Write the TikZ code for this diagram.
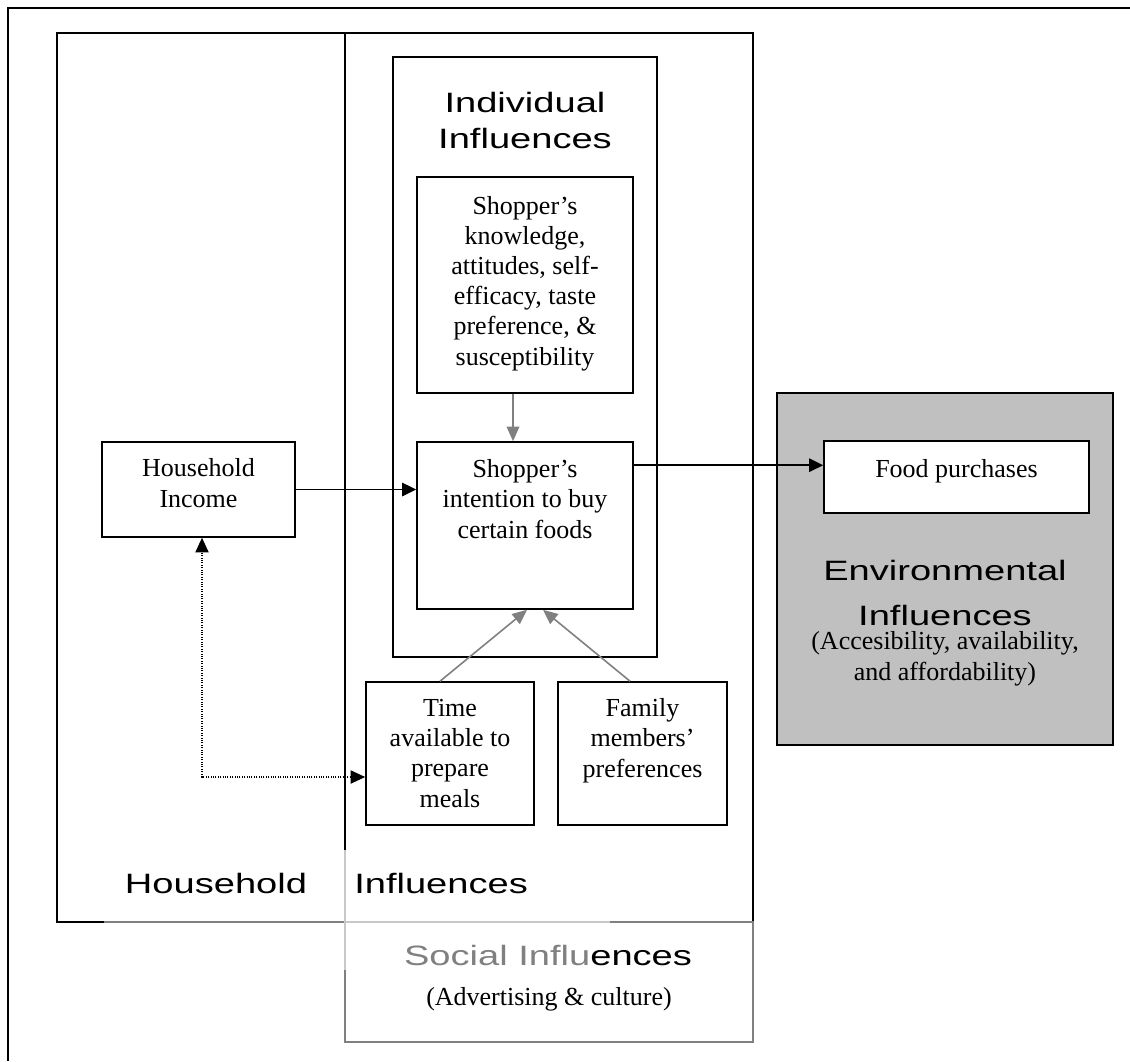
\documentclass[tikz,border=0pt]{standalone}
\usepackage{fontspec}
\setmainfont{Liberation Serif}
\newfontfamily\headfont[FakeStretch=1.36]{Liberation Sans}
\usetikzlibrary{arrows.meta,fit,calc}
\definecolor{midgray}{HTML}{808080}
\definecolor{paleline}{HTML}{C8C8C8}
\definecolor{envgray}{HTML}{C0C0C0}
\begin{document}
\begin{tikzpicture}[x=0.75pt,y=-0.75pt,
  boxline/.style={draw=black, line width=1.2pt, inner sep=0pt},
  body/.style={font=\fontsize{19.5}{22.6}\selectfont, align=center, inner sep=0pt},
  head/.style={font=\headfont\fontsize{21}{27}\selectfont, inner sep=0pt},
  blackarrow/.style={line width=1.2pt, -{Triangle[length=10.5pt,width=10pt]}},
  grayarrow/.style={draw=midgray, line width=1.2pt, -{Triangle[length=11pt,width=9.5pt]}},
  dotarrow/.style={line width=0.9pt, dash pattern=on 0.8pt off 1pt,
    {Triangle[length=11pt,width=10pt]}-{Triangle[length=11pt,width=10pt]}}]
\useasboundingbox (0,0) rectangle (1130,1061);
% page frame
\draw[line width=1.5pt] (8,1061) -- (8,8) -- (1130,8);
% big containers
\node[boxline, fit={(57,33)(345,922)}] (hh) {};
\node[boxline, fit={(345,33)(753,922)}] (mid) {};
\node[boxline, draw=midgray, fit={(345,922)(753,1042)}] (soc) {};
\draw[midgray, line width=1.2pt] (104,922) -- (345,922);
\draw[paleline, line width=1.2pt] (345,922) -- (610,922);
\draw[paleline, line width=1.2pt] (345,850) -- (345,970);
% inner boxes
\node[boxline, fit={(393,57)(657,657)}] (indiv) {};
\node[boxline, fit={(417,177)(633,393)}] (know) {};
\node[boxline, fit={(417,442)(633,609)}] (intent) {};
\node[boxline, fit={(102,442)(295,537)}] (inc) {};
\node[boxline, fit={(366,682)(534,825)}] (time) {};
\node[boxline, fit={(558,682)(727,825)}] (fam) {};
\node[boxline, fill=envgray, fit={(777,393)(1113,745)}] (env) {};
\node[boxline, fill=white, fit={(824,441)(1089,513)}] (food) {};
% texts (anchor=base is the baseline of the last line)
\node[head, anchor=base] (indivT1) at (525,112) {Individual};
\node[head, anchor=base] (indivT2) at (525,148) {Influences};
\node[body, anchor=base] (knowT) at (525,365) {Shopper’s\\knowledge,\\attitudes, self-\\efficacy, taste\\preference, \&\\susceptibility};
\node[body, anchor=base] (intentT) at (525,538) {Shopper’s\\intention to buy\\certain foods};
\node[body, anchor=base] (incT) at (198.5,507) {Household\\Income};
\node[body, anchor=base] (foodT) at (956.5,477) {Food purchases};
\node[body, anchor=base] (timeT) at (450,807) {Time\\available to\\prepare\\meals};
\node[body, anchor=base] (famT) at (642.5,777) {Family\\members’\\preferences};
\node[head, anchor=base] (envT1) at (945,580) {Environmental};
\node[head, anchor=base] (envT2) at (945,625) {Influences};
\node[body, anchor=base] (envT3) at (945,680) {(Accesibility, availability,\\and affordability)};
\node[head, anchor=base] (hhT) at (216,893) {Household};
\node[head, anchor=base west] (midT) at (354,893) {Influences};
\node[head, anchor=base] (socT1) at (548,965) {\textcolor{midgray}{Social Influ}ences};
\node[body, anchor=base] (socT2) at (549,1005) {(Advertising \& culture)};
% connectors
\draw[blackarrow] (inc.east) -- (inc.east -| intent.west);
\draw[blackarrow] ($(intent.north east)+(0,24)$) -- ($(food.north west)+(0,25)$);
\draw[grayarrow] ($(know.south)+(-12,0)$) -- ($(intent.north)+(-12,0)$);
\draw[grayarrow] ($(time.north)+(-10,0)$) -- ($(intent.south)+(2,0)$);
\draw[grayarrow] ($(fam.north)+(-12.5,0)$) -- ($(intent.south)+(18,0)$);
\draw[dotarrow] ($(time.west)+(0,23.5)$) -| ($(inc.south)+(3.5,0)$);
\end{tikzpicture}
\end{document}
